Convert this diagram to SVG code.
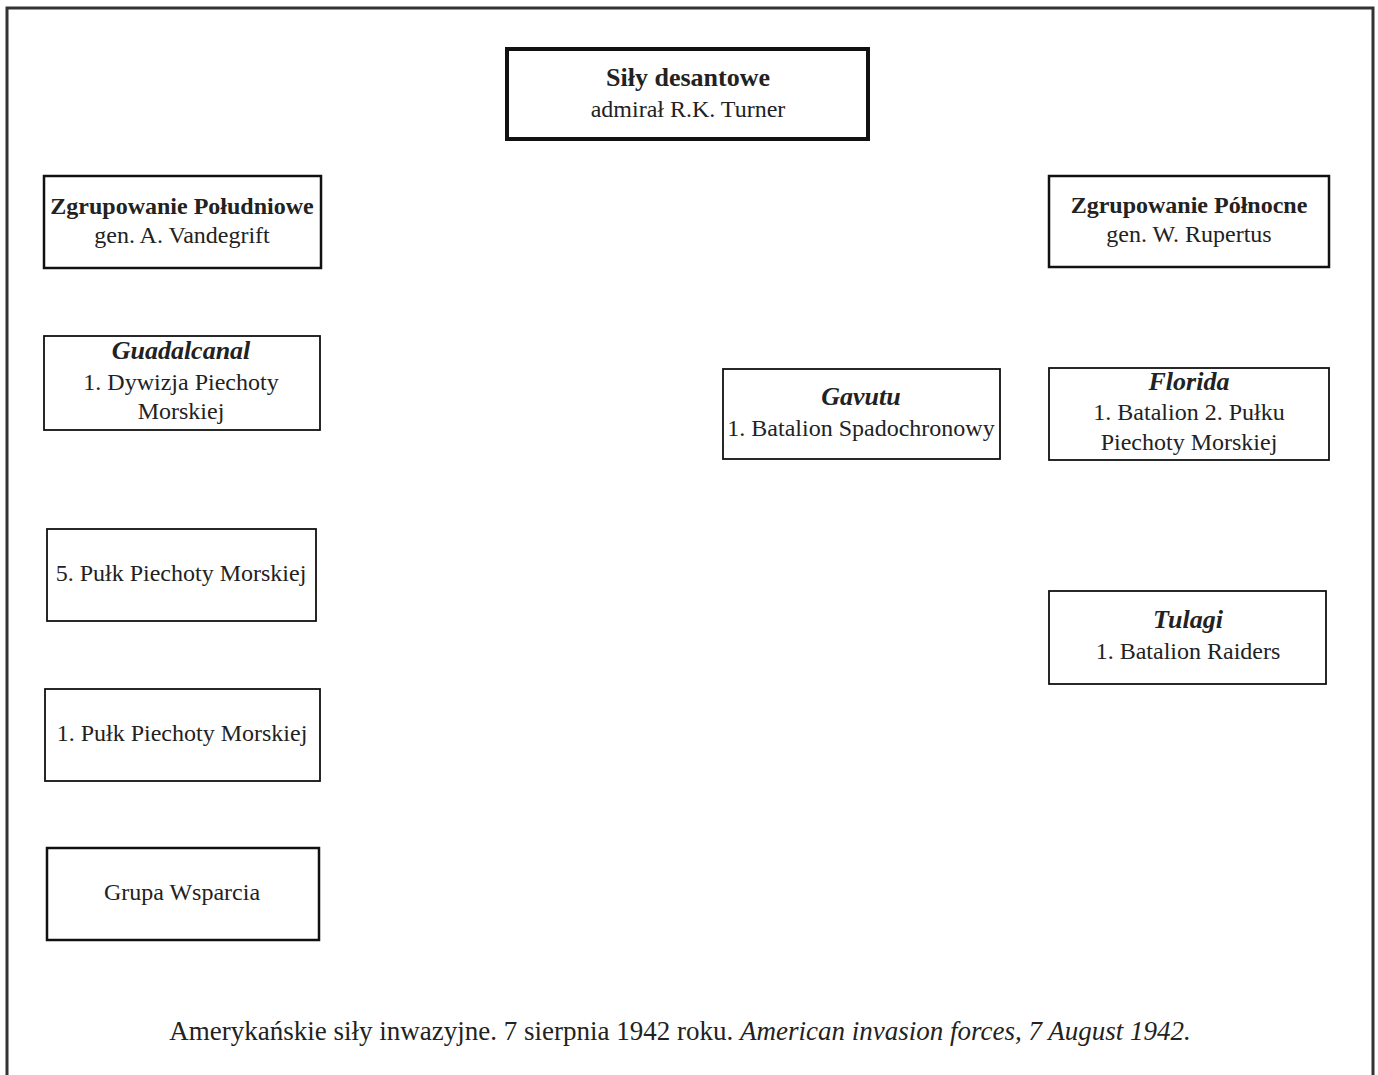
<svg xmlns="http://www.w3.org/2000/svg" width="1378" height="1075" viewBox="0 0 1378 1075">
<style>
.bg{fill:#ffffff}
.frame{fill:none;stroke:#333;stroke-width:3}
.box{fill:#fff;stroke:#111}
.thick{stroke-width:4}
.mid{stroke-width:2.5}
.thin{stroke-width:1.8}
text{font-family:"Liberation Serif","Times New Roman",serif;fill:#222;text-anchor:middle;font-size:24px}
.b{font-weight:bold;font-size:24px}
.bt{font-weight:bold;font-size:26px}
.bi{font-weight:bold;font-style:italic;font-size:26px}
.cap{font-size:27px}
.it{font-style:italic}
</style>
<rect class="bg" x="0" y="0" width="1378" height="1075"/>
<path class="frame" d="M7,1080 V8 H1373 V1080"/>
<g id="connectors"></g>
<g id="sily-desantowe">
<rect class="box thick" x="507" y="49" width="361" height="90"/>
<text class="bt" x="688" y="86">Siły desantowe</text>
<text x="688" y="117">admirał R.K. Turner</text>
</g>
<g id="zgrupowanie-poludniowe">
<rect class="box mid" x="44" y="176" width="277" height="92"/>
<text class="b" x="182" y="214">Zgrupowanie Południowe</text>
<text x="182" y="243">gen. A. Vandegrift</text>
</g>
<g id="zgrupowanie-polnocne">
<rect class="box mid" x="1049" y="176" width="280" height="91"/>
<text class="b" x="1189" y="213">Zgrupowanie Północne</text>
<text x="1189" y="242">gen. W. Rupertus</text>
</g>
<g id="guadalcanal">
<rect class="box thin" x="44" y="336" width="276" height="94"/>
<text class="bi" x="181" y="359">Guadalcanal</text>
<text x="181" y="390">1. Dywizja Piechoty</text>
<text x="181" y="419">Morskiej</text>
</g>
<g id="gavutu">
<rect class="box thin" x="723" y="369" width="277" height="90"/>
<text class="bi" x="861" y="405">Gavutu</text>
<text x="861" y="436">1. Batalion Spadochronowy</text>
</g>
<g id="florida">
<rect class="box thin" x="1049" y="368" width="280" height="92"/>
<text class="bi" x="1189" y="390">Florida</text>
<text x="1189" y="420">1. Batalion 2. Pułku</text>
<text x="1189" y="450">Piechoty Morskiej</text>
</g>
<g id="tulagi">
<rect class="box thin" x="1049" y="591" width="277" height="93"/>
<text class="bi" x="1188" y="628">Tulagi</text>
<text x="1188" y="659">1. Batalion Raiders</text>
</g>
<g id="pulk-5">
<rect class="box thin" x="47" y="529" width="269" height="92"/>
<text x="181" y="581">5. Pułk Piechoty Morskiej</text>
</g>
<g id="pulk-1">
<rect class="box thin" x="45" y="689" width="275" height="92"/>
<text x="182" y="741">1. Pułk Piechoty Morskiej</text>
</g>
<g id="grupa-wsparcia">
<rect class="box mid" x="47" y="848" width="272" height="92"/>
<text x="182" y="900">Grupa Wsparcia</text>
</g>
<text class="cap" x="680" y="1040">Amerykańskie siły inwazyjne. 7 sierpnia 1942 roku. <tspan class="it">American invasion forces, 7 August 1942.</tspan></text>
</svg>
